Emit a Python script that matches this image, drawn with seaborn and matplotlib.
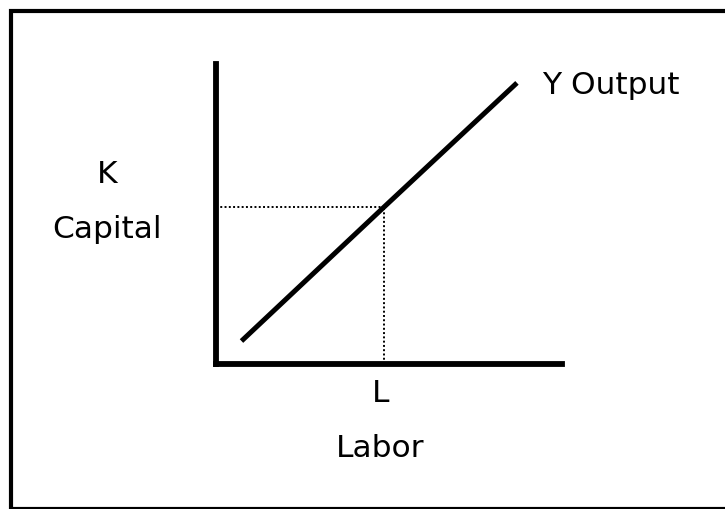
import matplotlib
matplotlib.use('Agg')
import matplotlib.pyplot as plt
import seaborn as sns
import pandas as pd
from matplotlib.patches import Rectangle

# output line (labor, capital) and the marked point
labor = [0.75, 4.86, 8.7]
capital = [0.75, 5.22, 9.37]
l_star = 4.86
k_star = 5.22

sns.set_theme(style='white')
plt.rcParams['font.family'] = ['DejaVu Sans']
plt.rcParams['text.color'] = 'black'

W, H = 725, 510
fig = plt.figure(figsize=(W / 100, H / 100), dpi=100)
ax = fig.add_axes([215.5 / W, 1 - 364.5 / H, (562 - 215.5) / W, (364.5 - 65) / H])

df = pd.DataFrame({'Labor': labor, 'Capital': capital})
sns.lineplot(data=df, x='Labor', y='Capital', ax=ax, color='black',
             linewidth=3.6, legend=False, solid_capstyle='butt')

# dotted guides to the point
ax.plot([0, l_star], [k_star, k_star], color='black', lw=1.4,
        ls=(0, (1, 1.2)))
ax.plot([l_star, l_star], [0, k_star], color='black', lw=1.4,
        ls=(0, (1, 1.2)))

ax.set_xlim(0, 10)
ax.set_ylim(0, 10)
ax.set_xticks([])
ax.set_yticks([])
ax.set_xlabel('')
ax.set_ylabel('')
ax.patch.set_alpha(0)
for s in ['top', 'right']:
    ax.spines[s].set_visible(False)
for s in ['left', 'bottom']:
    ax.spines[s].set_color('black')
    ax.spines[s].set_linewidth(4.2)
    ax.spines[s].set_capstyle('projecting')

fs = 22.5
ax.annotate('Y Output', xy=(labor[-1], capital[-1]), xytext=(18, -7.2),
            textcoords='offset points', fontsize=fs, ha='left', va='baseline',
            color='black')
ax.annotate('L', xy=(l_star, 0), xytext=(-2, -27), textcoords='offset points',
            fontsize=fs, ha='center', va='baseline', color='black')
fig.text(380 / W, 1 - 456.7 / H, 'Labor', fontsize=fs, ha='center',
         va='baseline', color='black')
fig.text(107.5 / W, 1 - 183 / H, 'K', fontsize=fs, ha='center',
         va='baseline', color='black')
fig.text(107.5 / W, 1 - 238 / H, 'Capital', fontsize=fs, ha='center',
         va='baseline', color='black')

# frame around the picture (bottom edge is cut off in the original)
fig.patches.append(Rectangle((11 / W, 1 - 509.5 / H), 1.0, (509.5 - 11.5) / H,
                             transform=fig.transFigure, fill=False,
                             edgecolor='black', linewidth=3.0))

fig.savefig('out.png', dpi=100)
